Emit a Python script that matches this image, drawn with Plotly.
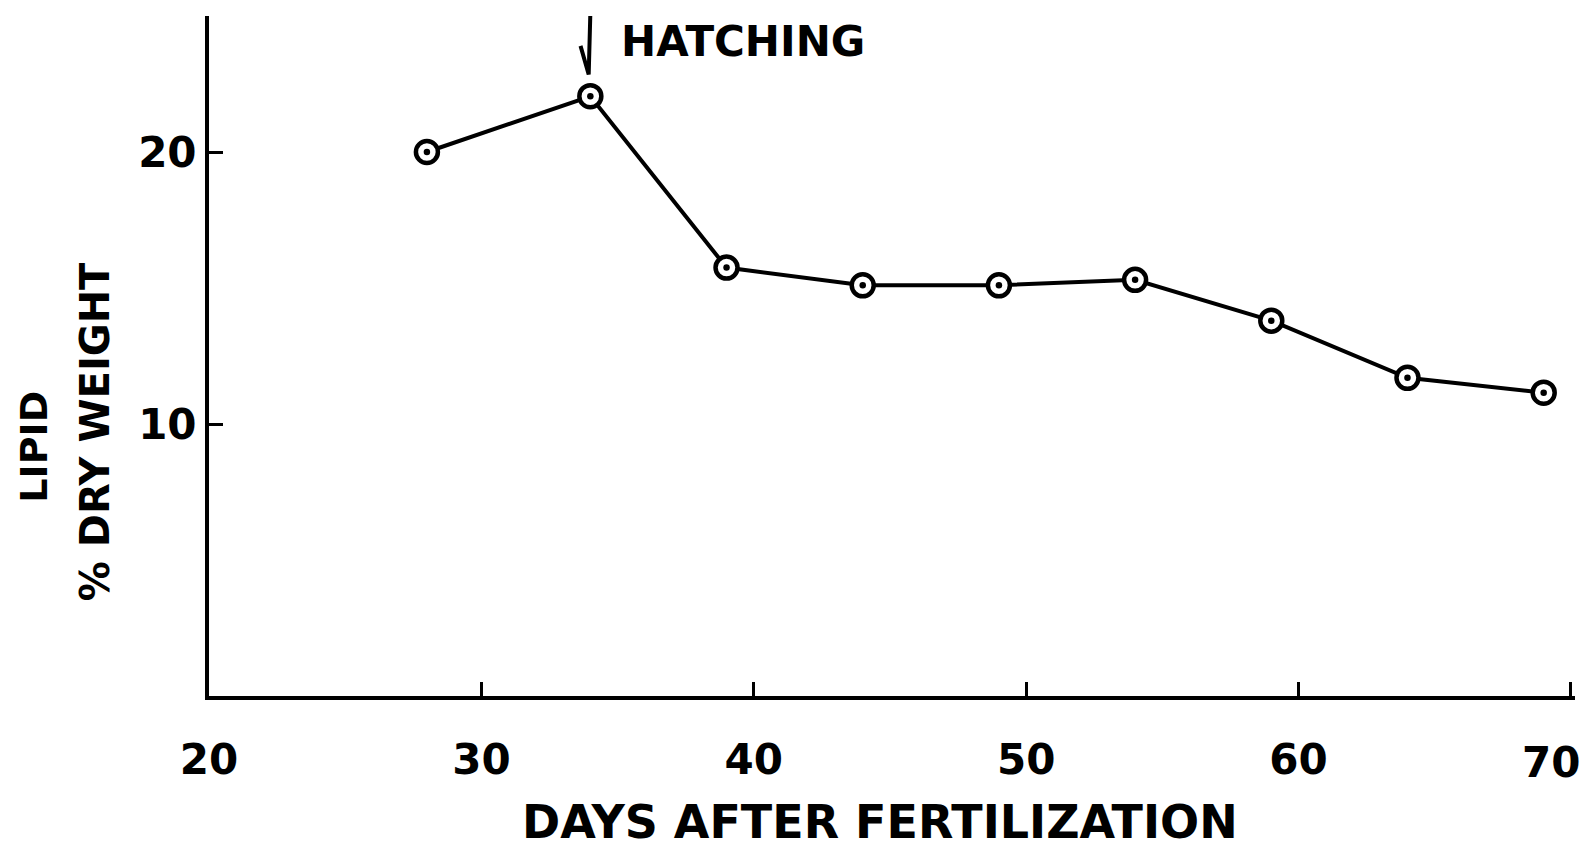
import plotly.graph_objects as go

days = [28, 34, 39, 44, 49, 54, 59, 64, 69]
lipid = [20.0, 22.05, 15.75, 15.1, 15.1, 15.3, 13.8, 11.7, 11.15]
x_ticks = [20, 30, 40, 50, 60, 70]
y_ticks = [10, 20]
hatch_day = 34
hatch_label = "HATCHING"
x_title = "DAYS AFTER FERTILIZATION"
y_title_1 = "LIPID"
y_title_2 = "% DRY WEIGHT"

FONT = "DejaVu Sans"
TICKFONT = dict(family=FONT, size=42, color="black", weight="bold")

# last x label is drawn as an annotation nudged left so it stays inside the page
x_ticktext = [str(v) for v in x_ticks[:-1]] + [""]

fig = go.Figure()
fig.add_trace(go.Scatter(x=days, y=lipid, mode="lines",
                         line=dict(color="black", width=4), hoverinfo="skip", showlegend=False))
fig.add_trace(go.Scatter(x=days, y=lipid, mode="markers",
                         marker=dict(symbol="circle", size=22, color="white",
                                     line=dict(color="black", width=4.5)),
                         showlegend=False))
fig.add_trace(go.Scatter(x=days, y=lipid, mode="markers",
                         marker=dict(symbol="circle", size=6.5, color="black"),
                         hoverinfo="skip", showlegend=False))

# hatching check mark
fig.add_shape(type="path",
              path=f"M {hatch_day-0.36},23.9 L {hatch_day-0.06},22.85 L {hatch_day},25.1",
              line=dict(color="black", width=4), xref="x", yref="y")

fig.add_annotation(x=hatch_day + 1.05, y=24.05, xref="x", yref="y", text=hatch_label,
                   showarrow=False, xanchor="left", yanchor="middle",
                   font=dict(family=FONT, size=42, color="black", weight="bold"))

fig.add_annotation(x=x_ticks[-1], y=0, xref="x", yref="y", text=str(x_ticks[-1]),
                   showarrow=False, xanchor="center", yanchor="middle",
                   xshift=-20, yshift=-66, font=TICKFONT)

fig.add_annotation(x=0.4915, y=-0.185, xref="paper", yref="paper", text=x_title,
                   showarrow=False, xanchor="center", yanchor="middle",
                   font=dict(family=FONT, size=46, color="black", weight="bold"))
fig.add_annotation(x=-0.1277, y=0.366, xref="paper", yref="paper", text=y_title_1,
                   showarrow=False, textangle=-90, xanchor="center", yanchor="middle",
                   font=dict(family=FONT, size=38, color="black", weight="bold"))
fig.add_annotation(x=-0.0834, y=0.388, xref="paper", yref="paper", text=y_title_2,
                   showarrow=False, textangle=-90, xanchor="center", yanchor="middle",
                   font=dict(family=FONT, size=40, color="black", weight="bold"))

fig.update_xaxes(range=[20, 70.15], tickvals=x_ticks, ticktext=x_ticktext,
                 showline=True, linecolor="black", linewidth=4, mirror=False,
                 ticks="inside", ticklen=14, tickwidth=3, tickcolor="black",
                 showgrid=False, zeroline=False, ticklabelstandoff=24,
                 ticklabeloverflow="allow", automargin=False, tickfont=TICKFONT)
fig.update_yaxes(range=[0, 25], tickvals=y_ticks, ticktext=[str(v) for v in y_ticks],
                 showline=True, linecolor="black", linewidth=4, mirror=False,
                 ticks="inside", ticklen=14, tickwidth=3, tickcolor="black",
                 showgrid=False, zeroline=False, ticklabelstandoff=0, automargin=False,
                 tickfont=TICKFONT)

# page body has an 8px margin; size the figure so the plot lands in the window
fig.update_layout(width=1584, height=842, plot_bgcolor="white", paper_bgcolor="white",
                  margin=dict(l=201, r=17, t=8, b=154), showlegend=False)

fig.write_html("out.html")
